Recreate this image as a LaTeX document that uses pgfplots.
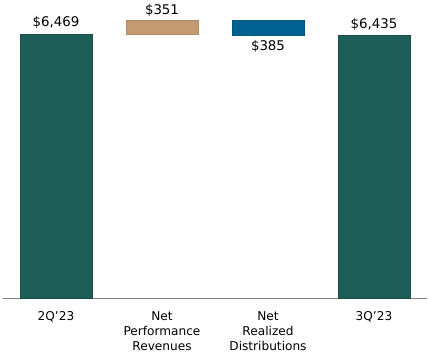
\documentclass[border=0pt]{standalone}
\usepackage{pgfplots}
\pgfplotsset{compat=1.18}
\usepackage{fontspec}
\setmainfont{DejaVu Sans}[Ligatures=ResetAll]
\definecolor{teal1}{RGB}{30,94,89}
\definecolor{tan1}{RGB}{196,154,115}
\definecolor{blue1}{RGB}{0,98,145}
\begin{document}
\begin{tikzpicture}
\begin{axis}[
  scale only axis,
  width=318pt, height=214.65pt,
  ybar stacked, bar width=54pt,
  xmin=-0.5, xmax=3.5, ymin=0, ymax=7000,
  axis x line*=bottom, axis y line=none,
  x axis line style={-, draw={rgb,255:red,128;green,128;blue,128}, line width=0.8pt},
  xtick={0,1,2,3},
  xticklabels={2Q'23, Net\\Performance\\Revenues, Net\\Realized\\Distributions, 3Q'23},
  xtick style={draw=none},
  xticklabel style={align=center, anchor=north, font=\fontsize{9.1}{11.5}\selectfont, yshift=-6pt},
  ytick=\empty,
  clip=false,
  point meta=explicit symbolic,
  nodes near coords,
  every node near coord/.append style={font=\fontsize{10}{12}\selectfont, anchor=center},
]
% invisible base
\addplot[draw=none, fill=none, nodes near coords={}] coordinates {(0,0) [] (1,6469) [] (2,6435) [] (3,0) []};
% teal 2Q'23
\addplot[fill=teal1, draw=teal1!85!black, line width=0.3pt, every node near coord/.append style={yshift=107.7pt}]
  coordinates {(0,6469) [\$6,469] (1,0) [] (2,0) [] (3,0) []};
% teal 3Q'23
\addplot[fill=teal1, draw=teal1!85!black, line width=0.3pt, every node near coord/.append style={yshift=106.7pt}]
  coordinates {(0,0) [] (1,0) [] (2,0) [] (3,6435) [\$6,435]};
% tan increase
\addplot[fill=tan1, draw=tan1!90!black, line width=0.3pt, every node near coord/.append style={yshift=12.4pt}]
  coordinates {(0,0) [] (1,351) [\$351] (2,0) [] (3,0) []};
% blue decrease
\addplot[fill=blue1, draw=blue1!85!black, line width=0.3pt, every node near coord/.append style={yshift=-14.15pt}]
  coordinates {(0,0) [] (1,0) [] (2,385) [\$385] (3,0) []};
\path (rel axis cs:-0.00708,-0.1957) rectangle (rel axis cs:1.00708,1.0377);
\end{axis}
\end{tikzpicture}
\end{document}
